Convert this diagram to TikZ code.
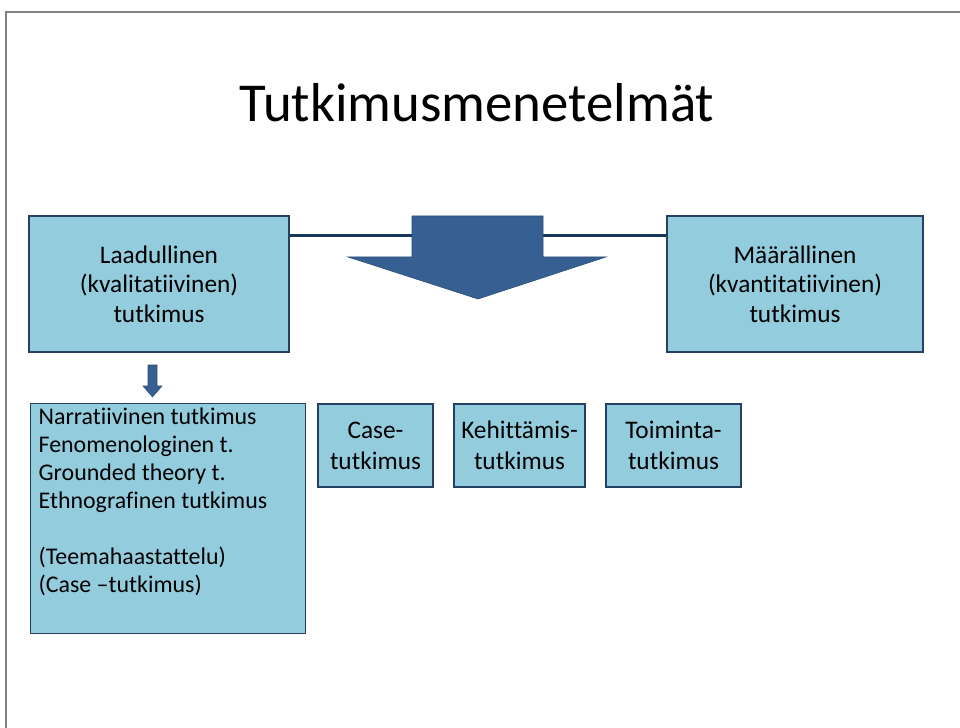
\documentclass[tikz,border=0pt]{standalone}
\usepackage{fontspec}
\setmainfont{Carlito}[Ligatures={NoCommon,NoRare,NoContextual}]
\definecolor{boxfill}{HTML}{93CDDD}
\definecolor{boxline}{HTML}{254061}
\definecolor{arrowfill}{HTML}{376092}
\definecolor{linknavy}{HTML}{17375E}

\begin{document}
\begin{tikzpicture}[x=0.025cm,y=-0.025cm,
        box/.style={draw=boxline,line width=0.9pt,fill=boxfill,align=center,
                    font=\fontsize{18}{21}\selectfont},
        link/.style={draw=linknavy,line width=2pt},
        blockarrow/.style={fill=arrowfill,draw=arrowfill!80!black,line width=0.4pt}]
        \useasboundingbox (0,0) rectangle (960,728);

        % 0. Frame and title
        \draw[gray,line width=1pt] (6,728) -- (6,12) -- (960,12);
        \node (title) at (477,122) [anchor=base,font=\fontsize{39}{46}\selectfont] {Tutkimusmenetelmät};

        % 1. Main categories
        \node (lad) at (159,284) [box,minimum width=6.5cm,minimum height=3.4cm] {Laadullinen\\(kvalitatiivinen)\\tutkimus};
        \node (maar) at (795,284) [box,minimum width=6.4cm,minimum height=3.4cm] {Määrällinen\\(kvantitatiivinen)\\tutkimus};

        % Connection between categories and big arrow
        \draw[link] ([yshift=-0.5cm]lad.north east) -- ([yshift=-0.5cm]maar.north west);
        \path[blockarrow] (412,216) -- (543,216) -- (543,257) -- (606,257) -- (478,299)
                -- (348,257) -- (412,257) -- cycle;

        % 2. Qualitative methods
        \path[blockarrow] (148,365) -- (157,365) -- (157,386) -- (162,386) -- (152.5,397)
                -- (143,386) -- (148,386) -- cycle;
        \node (narr) at (30,403) [box,anchor=north west,inner xsep=0.2cm,inner ysep=0.1cm,
                font=\fontsize{17}{20}\selectfont]
                {\parbox[t][5.55cm][t]{6.475cm}{\raggedright
                Narratiivinen tutkimus\\
                Fenomenologinen t.\\
                Grounded theory t.\\
                Ethnografinen tutkimus\\[20pt]
                (Teemahaastattelu)\\
                (Case –tutkimus)}};

        % 3. Other research types
        \node (case) at (375.5,445.5) [box,minimum width=2.875cm,minimum height=2.075cm,
                font=\fontsize{18}{22}\selectfont] {Case-\\tutkimus};
        \node (keh) at (519.5,445.5) [box,minimum width=3.275cm,minimum height=2.075cm,
                font=\fontsize{18}{22}\selectfont] {Kehittämis-\\tutkimus};
        \node (toim) at (673.5,445.5) [box,minimum width=3.375cm,minimum height=2.075cm,
                font=\fontsize{18}{22}\selectfont] {Toiminta-\\tutkimus};
\end{tikzpicture}
\end{document}
